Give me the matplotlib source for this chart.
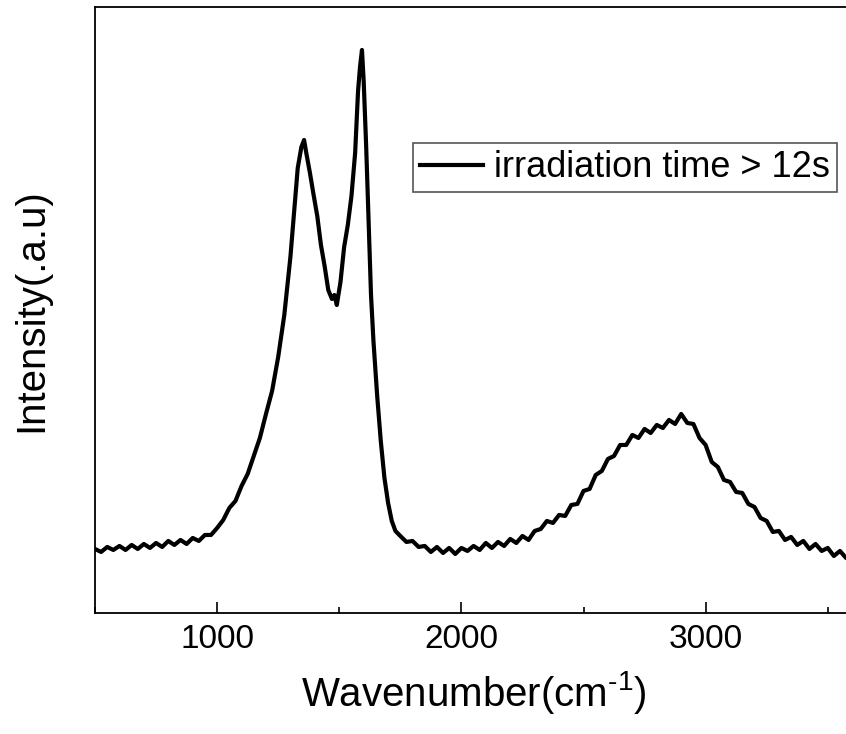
import matplotlib.pyplot as plt
from matplotlib.ticker import MultipleLocator

# Raman spectrum (arbitrary intensity units),
# small ups and downs follow the visible jitter of the trace
wavenumber = [500, 525, 550, 575, 600, 625, 650, 675, 700, 725, 750, 775,
              800, 825, 850, 875, 900, 925, 950, 975, 1000, 1025, 1050, 1075,
              1100, 1125, 1150, 1175, 1200, 1225, 1250, 1275, 1300, 1315, 1330,
              1345, 1356, 1365, 1380, 1395, 1410, 1425, 1440, 1455, 1470, 1480,
              1490, 1505, 1520, 1535, 1550, 1565, 1577, 1585, 1593, 1600, 1610,
              1620, 1630, 1640, 1655, 1670, 1685, 1700, 1715, 1730, 1750, 1775,
              1800, 1825, 1850, 1875, 1900, 1925, 1950, 1975, 2000, 2025, 2050,
              2075, 2100, 2125, 2150, 2175, 2200, 2225, 2250, 2275, 2300, 2325,
              2350, 2375, 2400, 2425, 2450, 2475, 2500, 2525, 2550, 2575, 2600,
              2625, 2650, 2675, 2700, 2725, 2750, 2775, 2800, 2825, 2850, 2875,
              2900, 2925, 2950, 2975, 3000, 3025, 3050, 3075, 3100, 3125, 3150,
              3175, 3200, 3225, 3250, 3275, 3300, 3325, 3350, 3375, 3400, 3425,
              3450, 3475, 3500, 3525, 3550, 3575, 3600]
intensity = [64, 61, 66, 63, 67, 63, 68, 64, 69, 65, 70, 66,
             72, 68, 73, 69, 75, 72, 78, 78, 85, 93, 105, 112,
             127, 139, 157, 175, 199, 222, 256, 298, 356, 400, 445,
             466, 473, 460, 440, 418, 397, 368, 347, 323, 314, 318,
             308, 331, 366, 388, 417, 460, 522, 546, 563, 532, 468,
             392, 318, 272, 218, 172, 135, 110, 92, 82, 77, 71,
             72, 66, 67, 61, 66, 60, 65, 59, 65, 62, 67,
             63, 70, 65, 71, 67, 74, 70, 77, 73, 82, 84,
             92, 90, 98, 97, 108, 109, 122, 124, 138, 142, 154,
             157, 168, 168, 178, 175, 184, 180, 188, 185, 193, 189,
             199, 190, 189, 175, 168, 151, 146, 133, 131, 121, 120,
             109, 106, 95, 92, 81, 82, 73, 76, 68, 72, 64,
             69, 62, 65, 57, 62, 55, 59]

legend_label = 'irradiation time > 12s'

plt.rcParams['font.family'] = ['Liberation Sans', 'DejaVu Sans']
plt.rcParams['mathtext.fontset'] = 'custom'
plt.rcParams['mathtext.rm'] = 'Liberation Sans'

fig = plt.figure(figsize=(8.46, 7.34), dpi=100)
ax = fig.add_axes([0.1123, 0.1649, 0.895, 0.8256])

ax.plot(wavenumber, intensity, color='black', lw=3.0, label=legend_label)

ax.set_xlim(500, 3600)
ax.set_ylim(0, 606)
ax.xaxis.set_major_locator(MultipleLocator(1000))
ax.xaxis.set_minor_locator(MultipleLocator(500))
ax.tick_params(axis='x', which='major', direction='in', length=8, width=1.2,
               labelsize=24, pad=8)
ax.tick_params(axis='x', which='minor', direction='in', length=4.5, width=1.2)
ax.set_yticks([])
ax.spines['right'].set_visible(False)
for s in ['left', 'top', 'bottom']:
    ax.spines[s].set_linewidth(1.3)

ax.set_xlabel(r'Wavenumber(cm$^{\mathrm{\text{-}1}}$)', fontsize=29, labelpad=10)
ax.set_ylabel('Intensity(.a.u)', fontsize=29, labelpad=32)

leg = ax.legend(loc='upper right', bbox_to_anchor=(0.980, 0.7756), borderaxespad=0,
                fontsize=26, fancybox=False, handlelength=1.75, handletextpad=0.3,
                borderpad=0.2, framealpha=1)
leg.get_frame().set_edgecolor('#555555')
leg.get_frame().set_linewidth(1.2)

plt.savefig('out.png', dpi=100)
